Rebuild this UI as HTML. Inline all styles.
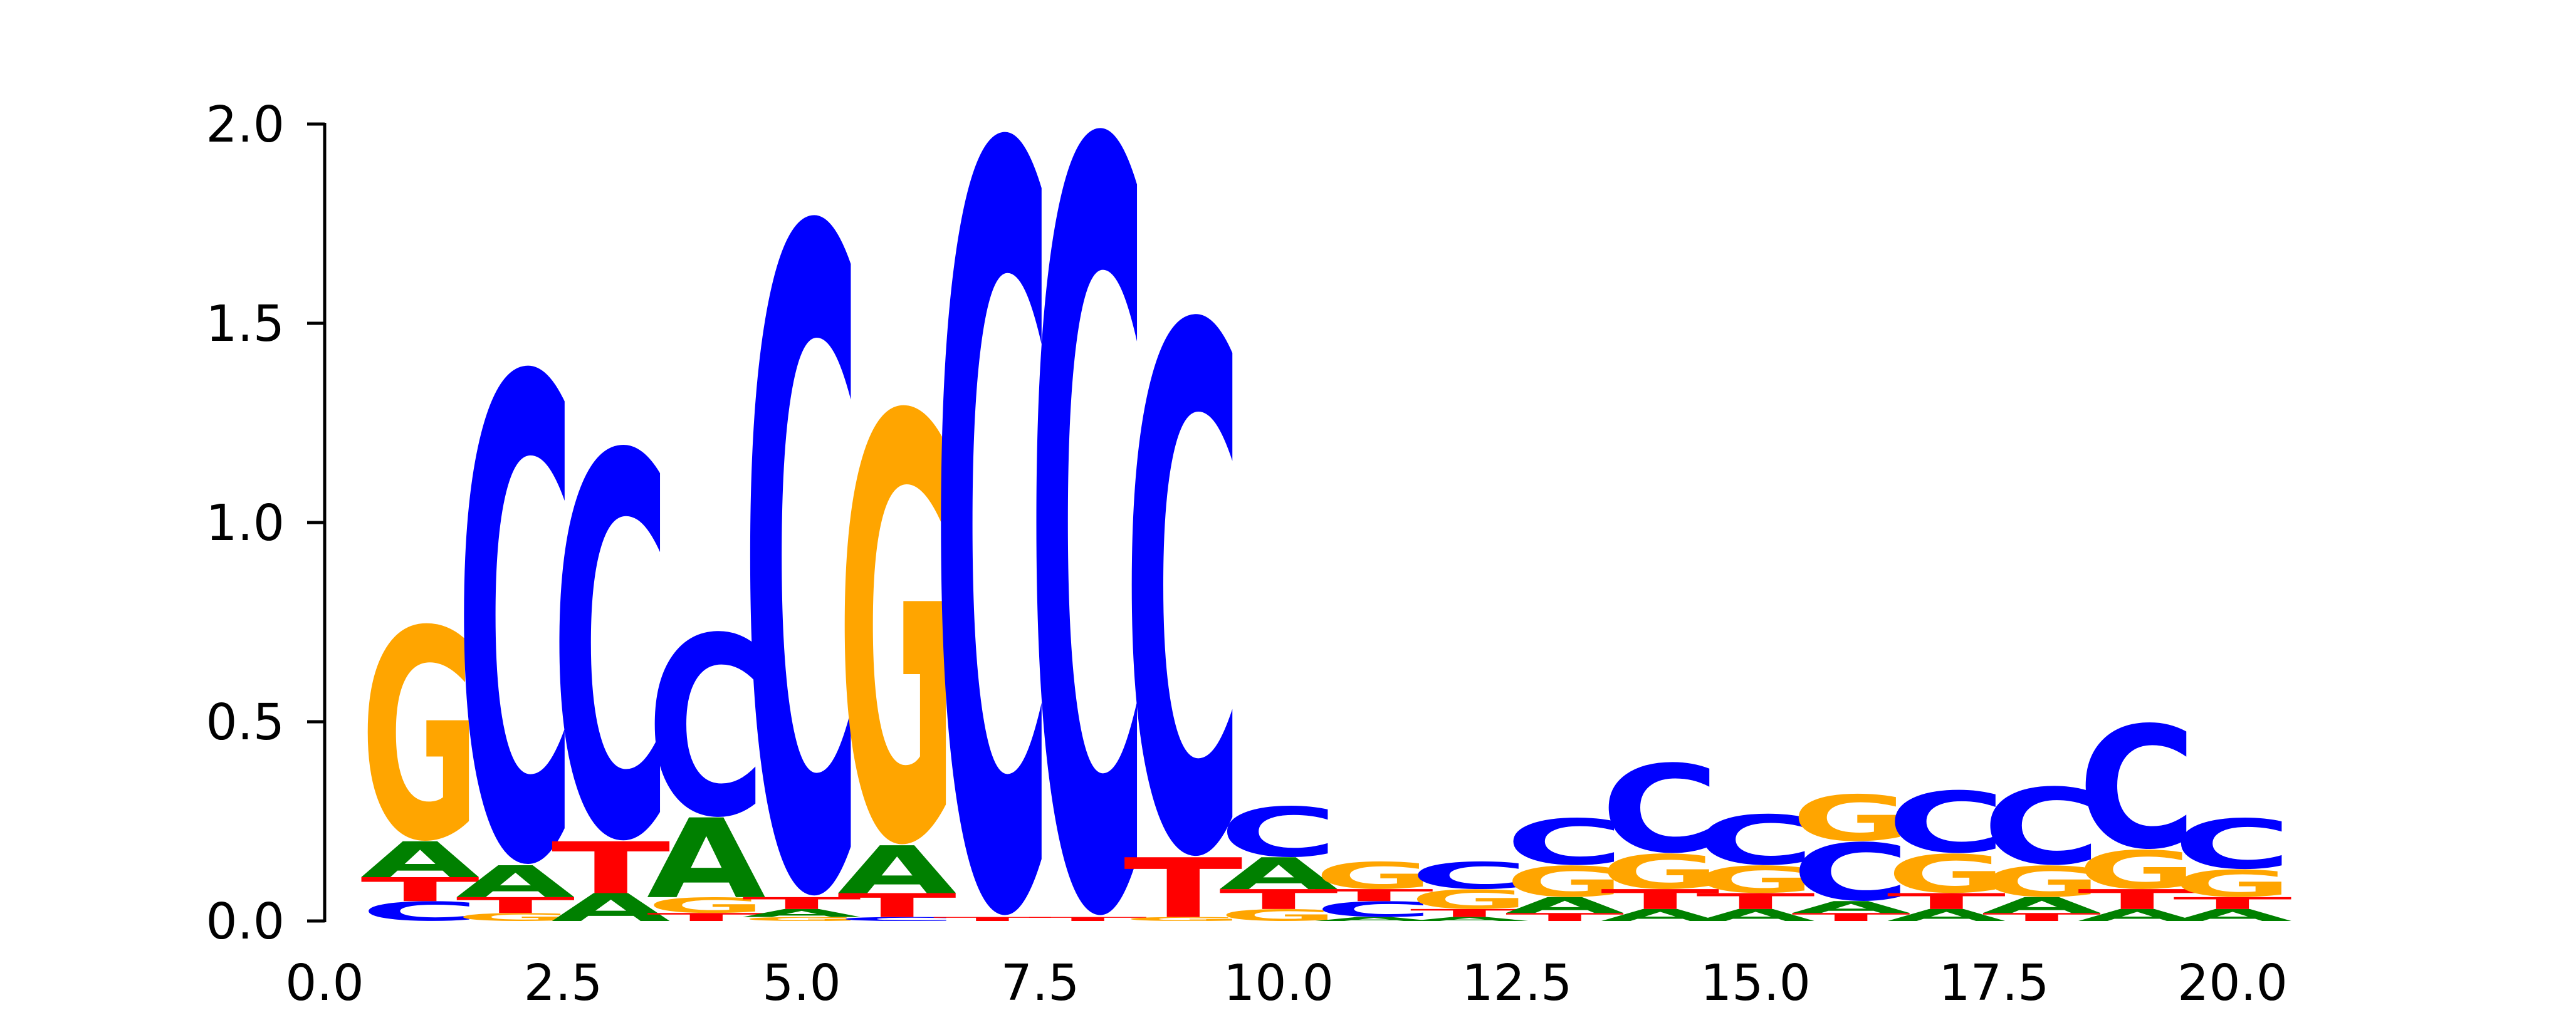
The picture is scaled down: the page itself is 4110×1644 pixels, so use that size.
<!DOCTYPE html>
<html><head><meta charset="utf-8"><style>
html,body{margin:0;padding:0;background:#fff;overflow:hidden;width:4110px;height:1644px;}
svg{display:block;overflow:hidden;}
text{font-family:"DejaVu Sans","Liberation Sans",sans-serif;}
</style></head><body>
<svg id="chart" width="4110" height="1644" viewBox="0 0 4110 1644" xmlns="http://www.w3.org/2000/svg">
<rect width="4110" height="1644" fill="#fff"/>
<g id="letters"></g>
<g id="axes"></g>
</svg>
<script>
// positions 1..20, stacks bottom-to-top: [letter, height in bits]
const positions = [1,2,3,4,5,6,7,8,9,10,11,12,13,14,15,16,17,18,19,20];
const stacks = [
 [["C",0.05],["T",0.06],["A",0.09],["G",0.55]],
 [["G",0.02],["T",0.04],["A",0.08],["C",1.26]],
 [["A",0.07],["T",0.13],["C",1.0]],
 [["T",0.02],["G",0.04],["A",0.2],["C",0.47]],
 [["G",0.01],["A",0.02],["T",0.03],["C",1.72]],
 [["C",0.01],["T",0.06],["A",0.12],["G",1.11]],
 [["T",0.01],["C",1.98]],
 [["T",0.01],["C",1.99]],
 [["G",0.01],["T",0.15],["C",1.37]],
 [["G",0.03],["T",0.05],["A",0.08],["C",0.13]],
 [["A",0.01],["C",0.04],["T",0.03],["G",0.07]],
 [["A",0.01],["T",0.02],["G",0.05],["C",0.07]],
 [["T",0.02],["A",0.04],["G",0.08],["C",0.12]],
 [["A",0.03],["T",0.05],["G",0.09],["C",0.23]],
 [["A",0.03],["T",0.04],["G",0.07],["C",0.13]],
 [["T",0.02],["A",0.03],["C",0.15],["G",0.12]],
 [["A",0.03],["T",0.04],["G",0.1],["C",0.16]],
 [["T",0.02],["A",0.04],["G",0.08],["C",0.2]],
 [["A",0.03],["T",0.05],["G",0.1],["C",0.32]],
 [["A",0.03],["T",0.03],["G",0.07],["C",0.13]]
];
const yTicks = [0.0,0.5,1.0,1.5,2.0];
const yTickLabels = ["0.0","0.5","1.0","1.5","2.0"];
const xTicks = [0,2.5,5,7.5,10,12.5,15,17.5,20];
const xTickLabels = ["0.0","2.5","5.0","7.5","10.0","12.5","15.0","17.5","20.0"];

const colors = {A:"#008000",C:"#0000ff",G:"#ffa500",T:"#ff0000"};
const NS="http://www.w3.org/2000/svg";
function xs(v){return 518 + v*152.2;}
function ys(v){return 1470 - v*636;}
const letterW = 190;
// ink extents at font-size 100 (top above baseline, bottom below baseline)
const inkTop = {A:72.9,T:72.9,C:74.6,G:74.6};
const inkBot = {A:0,T:0,C:1.6,G:1.6};

const lg = document.getElementById('letters');
positions.forEach((p,i)=>{
  let cum=0;
  stacks[i].forEach(([ch,h])=>{
    const y0 = ys(cum), y1 = ys(cum+h);
    cum += h;
    const t = document.createElementNS(NS,'text');
    
    
    t.setAttribute('x', 0); t.setAttribute('y', 0);
    t.setAttribute('font-size', 100);
    t.setAttribute('font-weight', 'bold');
    t.setAttribute('fill', colors[ch]);
    t.setAttribute('textLength', letterW);
    t.setAttribute('lengthAdjust', 'spacingAndGlyphs');
    const sy = (y0-y1)/(inkTop[ch]+inkBot[ch]);
    t.setAttribute('transform', `translate(${xs(p)-letterW/2},${y0}) scale(1,${sy}) translate(0,${-inkBot[ch]})`);
    t.textContent = ch;
    lg.appendChild(t);
  });
});

const ax = document.getElementById('axes');
const spine = document.createElementNS(NS,'line');


spine.setAttribute('x1',518);spine.setAttribute('x2',518);
spine.setAttribute('y1',ys(2)-2);spine.setAttribute('y2',ys(0)+2);
spine.setAttribute('stroke','#000');spine.setAttribute('stroke-width',5);
ax.appendChild(spine);
yTicks.forEach((v,i)=>{
  const l=document.createElementNS(NS,'line');
  
  
  l.setAttribute('x1',490);l.setAttribute('x2',518);
  l.setAttribute('y1',ys(v));l.setAttribute('y2',ys(v));
  l.setAttribute('stroke','#000');l.setAttribute('stroke-width',5);
  ax.appendChild(l);
  const t=document.createElementNS(NS,'text');
  
  
  t.setAttribute('x',454);t.setAttribute('y',ys(v)+28);
  t.setAttribute('text-anchor','end');t.setAttribute('font-size',79);
  t.textContent=yTickLabels[i];
  ax.appendChild(t);
});
xTicks.forEach((v,i)=>{
  const t=document.createElementNS(NS,'text');
  
  
  t.setAttribute('x',xs(v));t.setAttribute('y',1596);
  t.setAttribute('text-anchor','middle');t.setAttribute('font-size',79);
  t.textContent=xTickLabels[i];
  ax.appendChild(t);
});
</script>
</body></html>
